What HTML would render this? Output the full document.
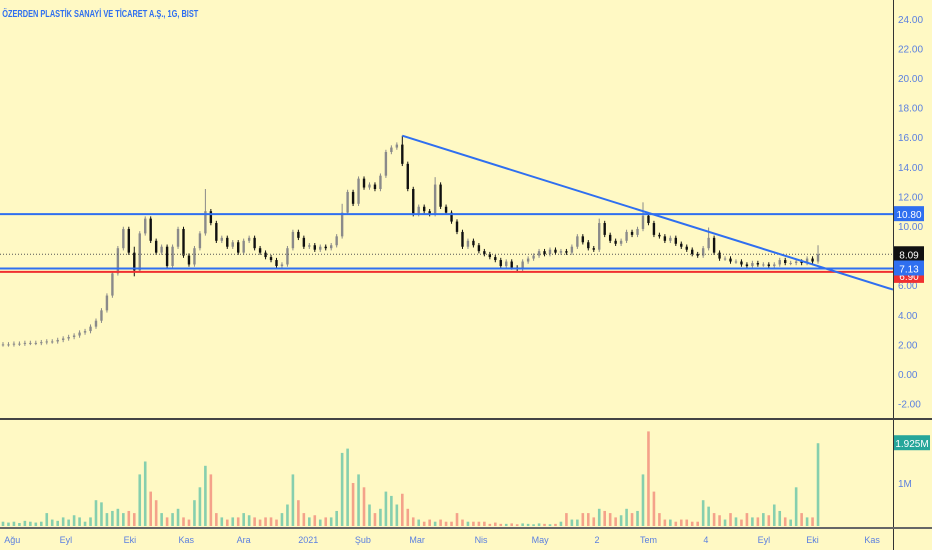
<!DOCTYPE html>
<html><head><meta charset="utf-8"><style>
html,body{margin:0;padding:0;background:#fff9c4;}
svg{display:block;font-family:"Liberation Sans",sans-serif;}
</style></head><body>
<svg id="chart" width="932" height="550" xmlns="http://www.w3.org/2000/svg">
<rect x="0" y="0" width="932" height="550" fill="#fff9c4"/>
<g id="grid"></g>
<g id="vol"></g>
<g id="candles"></g>
<g id="lines"></g>
<g id="axes"></g>
<text x="3" y="17" font-size="10" font-weight="bold" fill="#2f6ff0" transform="scale(0.74,1)">ÖZERDEN PLASTİK SANAYİ VE TİCARET A.Ş., 1G, BIST</text>
</svg>
<script>
const closes=[2.0,2.0,2.05,2.05,2.1,2.1,2.1,2.15,2.2,2.2,2.3,2.4,2.5,2.6,2.8,2.9,3.2,3.6,4.3,5.3,6.8,8.5,9.8,8.2,7.0,9.5,10.5,9.0,8.2,8.6,7.3,8.6,9.8,8.0,7.4,8.5,9.5,11.0,10.2,9.0,9.2,8.6,8.9,8.2,9.0,9.2,8.5,8.2,7.9,7.7,7.3,7.4,8.5,9.6,9.2,8.6,8.7,8.4,8.6,8.5,8.7,9.3,10.9,12.3,11.5,13.2,12.6,12.8,12.5,13.4,15.0,15.3,15.5,14.2,12.5,10.8,11.3,11.0,10.8,12.8,11.3,10.9,10.3,9.6,8.6,9.0,8.7,8.3,8.1,7.9,7.7,7.3,7.6,7.2,7.1,7.6,7.8,8.0,8.3,8.1,8.4,8.2,8.3,8.2,8.6,9.3,8.9,8.5,8.4,10.2,9.4,9.0,8.8,9.0,9.6,9.4,9.8,10.7,10.2,9.4,9.3,9.0,9.2,8.8,8.6,8.4,8.1,8.0,8.5,9.2,8.2,7.8,7.8,7.6,7.6,7.4,7.3,7.5,7.4,7.4,7.3,7.4,7.7,7.5,7.5,7.6,7.5,7.8,7.6,8.09];
const volumes=[0.1,0.08,0.1,0.07,0.12,0.1,0.08,0.1,0.3,0.15,0.12,0.2,0.15,0.25,0.2,0.1,0.2,0.6,0.55,0.3,0.35,0.4,0.3,0.35,0.3,1.2,1.5,0.8,0.6,0.3,0.2,0.3,0.4,0.2,0.15,0.6,0.9,1.4,1.2,0.3,0.2,0.15,0.2,0.2,0.3,0.25,0.2,0.15,0.2,0.2,0.15,0.3,0.5,1.2,0.6,0.3,0.2,0.25,0.15,0.2,0.2,0.35,1.7,1.8,1.0,1.2,0.9,0.5,0.3,0.4,0.8,0.7,0.5,0.75,0.4,0.2,0.15,0.1,0.15,0.1,0.15,0.1,0.1,0.3,0.15,0.1,0.1,0.1,0.1,0.05,0.08,0.05,0.05,0.06,0.04,0.06,0.05,0.04,0.06,0.05,0.04,0.05,0.1,0.3,0.15,0.15,0.3,0.3,0.2,0.4,0.35,0.3,0.2,0.25,0.4,0.3,0.35,1.2,2.2,0.8,0.3,0.15,0.15,0.1,0.15,0.15,0.1,0.1,0.6,0.45,0.3,0.25,0.15,0.3,0.2,0.15,0.3,0.2,0.2,0.3,0.25,0.5,0.35,0.2,0.15,0.9,0.3,0.2,0.2,1.925];
const spikeHigh={24:8.6,37:12.5,62:11.5,73:16.1,79:13.3,109:10.5,117:11.6,129:9.9,149:8.7};
const spikeLow={24:6.6,94:6.9,50:7.1};
const priceTicks=[24,22,20,18,16,14,12,10,6,4,2,0,-2];
const timeLabels=["Ağu","Eyl","Eki","Kas","Ara","2021","Şub","Mar","Nis","May","2","Tem","4","Eyl","Eki","Kas"];
const timeLabelBars=[1.7,11.5,23.2,33.5,44,55.8,65.8,75.7,87.4,98.2,108.6,118,128.5,139.1,148,158.9];
const levels=[10.80,7.13,6.90];
const trendStart={bar:73,price:16.1};
const trendMid={bar:117,price:11.0};
const lastPrice=8.09;

const NS="http://www.w3.org/2000/svg";
const yP=v=>374-14.8*v;
const xB=i=>3+i*5.47;
const yV=v=>526-43*v;
function mk(tag,attrs,parent){const e=document.createElementNS(NS,tag);for(const k in attrs)e.setAttribute(k,attrs[k]);parent.appendChild(e);return e;}
const gC=document.getElementById('candles'),gV=document.getElementById('vol'),gL=document.getElementById('lines'),gA=document.getElementById('axes');

closes.forEach((c,i)=>{
  const o=i===0?c:closes[i-1];
  const up=c>=o;
  const hi=spikeHigh[i]!==undefined?spikeHigh[i]:Math.max(o,c)+0.15;
  const lo=spikeLow[i]!==undefined?spikeLow[i]:Math.min(o,c)-0.15;
  const x=xB(i);
  const col=up?'#8a8a8a':'#111';
  const w=mk('line',{x1:x,x2:x,y1:yP(hi),y2:yP(lo),stroke:col,'stroke-width':1},gC);
  
  
  const t=Math.min(yP(o),yP(c)),h=Math.max(1,Math.abs(yP(o)-yP(c)));
  const b=mk('rect',{x:x-1.2,y:t,width:2.4,height:h,fill:col},gC);
  
  
  const v=volumes[i];
  const vb=mk('rect',{x:x-1.3,y:yV(v),width:2.6,height:526-yV(v),fill:up?'#86cfae':'#f4a28a'},gV);
  
  
});

const lvCol=['#2f6ff0','#2f6ff0','#f03030'];
levels.forEach((v,k)=>{
  const l=mk('line',{x1:0,x2:893,y1:yP(v),y2:yP(v),stroke:lvCol[k],'stroke-width':2},gL);
  
  
});
const dl=mk('line',{x1:0,x2:893,y1:yP(lastPrice),y2:yP(lastPrice),stroke:'#555','stroke-width':1,'stroke-dasharray':'1,2'},gL);


const x1=xB(trendStart.bar),y1=yP(trendStart.price),x2=xB(trendMid.bar),y2=yP(trendMid.price);
const slope=(y2-y1)/(x2-x1);
const tl=mk('line',{x1:x1,y1:y1,x2:893,y2:y1+slope*(893-x1),stroke:'#2f6ff0','stroke-width':2},gL);



const ax=mk('line',{x1:893.5,x2:893.5,y1:0,y2:550,stroke:'#333','stroke-width':1},gA);


const sep=mk('rect',{x:0,y:418,width:932,height:2,fill:'#444'},gA);


const bot=mk('rect',{x:0,y:527,width:932,height:2,fill:'#666'},gA);


priceTicks.forEach(v=>{
  const t=mk('text',{x:898,y:yP(v)+4,'font-size':10,fill:'#5a7fe0'},gA);
  
  
  t.textContent=v.toFixed(2);
});
const vt=mk('text',{x:898,y:yV(1)+4,'font-size':10,fill:'#5a7fe0'},gA);


vt.textContent='1M';
timeLabels.forEach((s,k)=>{
  const t=mk('text',{x:xB(timeLabelBars[k]),y:543,'font-size':9,fill:'#5a7fe0','text-anchor':'middle'},gA);
  
  
  t.textContent=s;
});
function badge(y,bg,name,txt){
  const r=mk('rect',{x:894,y:y-8,width:30,height:15,fill:bg},gA);
  
  
  const t=mk('text',{x:909,y:y+4,'font-size':10,fill:'#fff','text-anchor':'middle'},gA);
  
  
  t.textContent=txt;
}
badge(yP(6.90)+4,'#f03030','red-level-badge','6.90');
badge(yP(10.80),'#2f6ff0','level-badge-10-80','10.80');
badge(yP(lastPrice),'#111','last-price-badge',lastPrice.toFixed(2));
badge(yP(7.13),'#2f6ff0','level-badge-7-13','7.13');
const vr=mk('rect',{x:894,y:yV(volumes[volumes.length-1])-8,width:36,height:15,fill:'#26a69a'},gA);


const vtx=mk('text',{x:912,y:yV(volumes[volumes.length-1])+4,'font-size':10,fill:'#fff','text-anchor':'middle'},gA);


vtx.textContent=volumes[volumes.length-1].toFixed(3)+'M';
</script>
</body></html>
